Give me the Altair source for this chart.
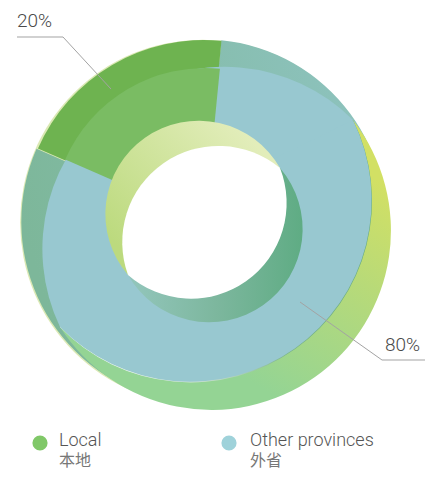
import math
import altair as alt
import pandas as pd

# ---- data
categories = ["Local", "Other provinces"]
categories_zh = ["本地", "外省"]
shares = [20, 80]
share_labels = ["20%", "80%"]

# ---- look
FONT = "Roboto, 'Noto Sans CJK SC', sans-serif"
W, H = 417, 462
OFF = 8


def rad(deg):
    return deg * math.pi / 180


def segment(p, q, side, s):
    """Wedge whose arc joins p and q, bulging by s towards `side`."""
    mx, my = (p[0] + q[0]) / 2, (p[1] + q[1]) / 2
    h = math.hypot(p[0] - q[0], p[1] - q[1]) / 2
    nx, ny = (q[1] - p[1]) / (2 * h), -(q[0] - p[0]) / (2 * h)
    if nx * side[0] + ny * side[1] < 0:
        nx, ny = -nx, -ny
    R = (h * h + s * s) / (2 * s)
    cx, cy = mx + (s - R) * nx, my + (s - R) * ny
    apex = math.atan2(nx, -ny)

    def rel(pt):
        a = math.atan2(pt[0] - cx, -(pt[1] - cy)) - apex
        return (a + math.pi) % (2 * math.pi) - math.pi

    a, b = rel(p), rel(q)
    return dict(x=cx - OFF, y=cy - OFF, r=R, t1=apex + min(a, b), t2=apex + max(a, b))


def disc(cx, cy, r):
    return dict(x=cx - OFF, y=cy - OFF, r=r, t1=0.0, t2=2 * math.pi)


def wedge(rows, fill):
    base = alt.Chart(pd.DataFrame(rows)).mark_arc(fill=fill, stroke=None)
    return base.encode(
        x=alt.X("x:Q", scale=None, axis=None),
        y=alt.Y("y:Q", scale=None, axis=None),
        theta=alt.Theta("t1:Q", scale=None),
        theta2="t2:Q",
        radius=alt.Radius("r:Q", scale=None),
    )


def grad(stops, x1, y1, x2, y2):
    return alt.LinearGradient(
        gradient="linear",
        stops=[alt.GradientStop(color=c, offset=o) for c, o in stops],
        x1=x1, y1=y1, x2=x2, y2=y2,
    )


# shares → angles, through the chart's own scale
cum = [0]
for s in shares:
    cum.append(cum[-1] + s)
START = rad(293.6)
share_df = pd.DataFrame({
    "category": categories,
    "c0": cum[:-1],
    "c1": cum[1:],
})
theta_scale = alt.Scale(domain=[0, 100], range=[START, START + 2 * math.pi])


def share_wedge(cat, cx, cy, r, fill):
    return (
        alt.Chart(share_df)
        .transform_filter(alt.datum.category == cat)
        .transform_calculate(px=str(cx - OFF), py=str(cy - OFF), rr=str(r))
        .mark_arc(fill=fill, stroke=None)
        .encode(
            x=alt.X("px:Q", scale=None, axis=None),
            y=alt.Y("py:Q", scale=None, axis=None),
            theta=alt.Theta("c0:Q", scale=theta_scale),
            theta2="c1:Q",
            radius=alt.Radius("rr:Q", scale=None),
        )
    )


A, B = (60, 327), (353, 120)
UL, LR = (-1, -1), (1, 1)
C1, C2 = (128, 275), (280, 168)

layers = [
    # faint light fringe on the left
    wedge([disc(202.7, 222.3, 182.6)], "#dbe9b4"),
    # shaded rim
    share_wedge(categories[1], 203.5, 221.7, 182.2,
                grad([("#7db79a", 0), ("#80b9a0", 0.2), ("#8ec3bf", 1)], 0, 0.5, 1, 0.2)),
    share_wedge(categories[0], 203.8, 221, 181, "#6eb350"),
    # back ring, lower right of the front face
    wedge([segment(A, B, LR, 188)],
          grad([("#d2e064", 0), ("#b8da78", 0.4), ("#94d494", 1)], 0.95, 0.2, 0.5, 0.85)),
    # thin edge of the front face
    wedge([segment(A, B, LR, 153.8)],
          grad([("#5fa77c", 0), ("#7bb48a", 0.6), ("#ffffff", 1)], 0.9, 0.1, 0.1, 0.9)),
    # front face
    wedge([segment(A, B, UL, 151), segment(A, B, LR, 153)], "#98c8d0"),
    share_wedge(categories[0], 205, 220.5, 152.5, "#7abc63"),
    # inner wall
    wedge([segment(C1, C2, LR, 102.5)],
          grad([("#93c6bc", 0), ("#7db79e", 0.5), ("#5fac84", 1)], 0, 0.5, 1, 0.5)),
    wedge([segment(C1, C2, UL, 102.5)],
          grad([("#bcda7e", 0), ("#e2edba", 1)], 0.1, 0.85, 0.9, 0.2)),
    # hole
    wedge([segment(C1, C2, UL, 71), segment(C1, C2, LR, 73)], "#ffffff"),
]

# leader lines
leaders = pd.DataFrame({
    "id": [0, 0, 0, 1, 1, 1],
    "o": [0, 1, 2, 0, 1, 2],
    "x": [v - OFF for v in [17, 63, 111, 425, 382, 300]],
    "y": [v - OFF for v in [37, 37, 89, 360, 360, 302]],
})
layers.append(
    alt.Chart(leaders).mark_line(color="#a3a3a3", strokeWidth=1).encode(
        x=alt.X("x:Q", scale=None, axis=None),
        y=alt.Y("y:Q", scale=None, axis=None),
        detail="id:N",
        order="o:Q",
    )
)


def text(s, x, y, size, color, weight=400):
    return (
        alt.Chart(pd.DataFrame({"t": [s], "x": [x - OFF], "y": [y - OFF]}))
        .mark_text(align="left", baseline="alphabetic", font=FONT, fontSize=size,
                   fontWeight=weight, color=color)
        .encode(
            x=alt.X("x:Q", scale=None, axis=None),
            y=alt.Y("y:Q", scale=None, axis=None),
            text="t:N",
        )
    )


layers += [
    text(share_labels[0], 17, 27, 19, "#4a4a4a", 300),
    text(share_labels[1], 385, 351, 19, "#4a4a4a", 300),
    text(categories[0], 59, 446, 18, "#555555", 300),
    text(categories[1], 250, 446, 18, "#555555", 300),
    text(categories_zh[0], 59, 466, 16, "#777777"),
    text(categories_zh[1], 250, 466, 16, "#777777"),
]

legend_df = pd.DataFrame({
    "category": categories,
    "x": [40 - OFF, 229 - OFF],
    "y": [443 - OFF, 443 - OFF],
})
layers.append(
    alt.Chart(legend_df).mark_point(filled=True, size=230, opacity=1, shape="circle").encode(
        x=alt.X("x:Q", scale=None, axis=None),
        y=alt.Y("y:Q", scale=None, axis=None),
        color=alt.Color("category:N", legend=None,
                        scale=alt.Scale(domain=categories, range=["#80c868", "#9fd2da"])),
    )
)

chart = (
    alt.layer(*layers)
    .resolve_scale(theta="independent", radius="independent", x="independent", y="independent")
    .properties(width=W, height=H, padding=0, autosize=alt.AutoSizeParams(type="none"),
                background="#ffffff")
    .configure_view(stroke=None)
)

chart.save("out.html", embed_options={"renderer": "svg", "actions": False})
